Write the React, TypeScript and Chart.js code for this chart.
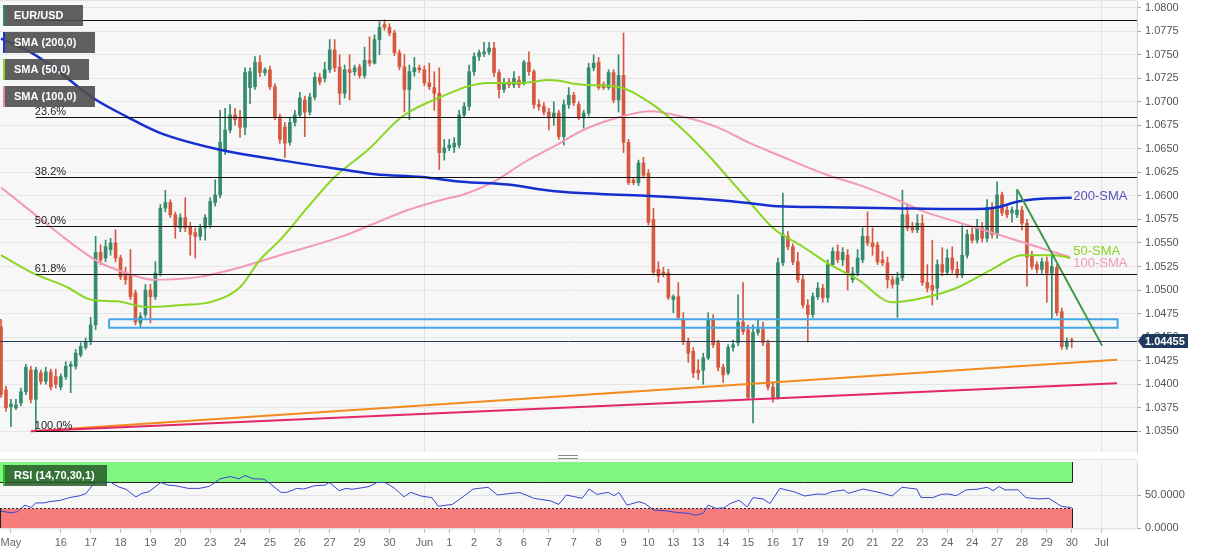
import React, { useEffect, useRef } from 'react';
import { Chart, registerables } from 'chart.js';

Chart.register(...registerables);

// ---------------- DATA ----------------
const opens = [
  1.0461,1.0394,1.0376,1.0375,1.0380,1.0392,1.0415,1.0384,1.0412,1.0403,
  1.0413,1.0408,1.0397,1.0408,1.0419,1.0419,1.0431,1.0439,1.0445,1.0463,
  1.0540,1.0534,1.0543,1.0550,1.0534,1.0519,1.0516,1.0497,1.0465,1.0474,
  1.0500,1.0493,1.0518,1.0587,1.0593,1.0580,1.0566,1.0577,1.0567,1.0561,
  1.0557,1.0566,1.0569,1.0593,1.0601,1.0647,1.0670,1.0686,1.0683,1.0673,
  1.0715,1.0716,1.0742,1.0731,1.0734,1.0716,1.0684,1.0673,1.0657,1.0678,
  1.0686,1.0702,1.0689,1.0705,1.0726,1.0725,1.0734,1.0755,1.0737,1.0709,
  1.0734,1.0732,1.0737,1.0728,1.0744,1.0741,1.0766,1.0782,1.0779,1.0773,
  1.0752,1.0737,1.0713,1.0732,1.0736,1.0734,1.0720,1.0715,1.0709,1.0646,
  1.0651,1.0652,1.0654,1.0686,1.0695,1.0732,1.0748,1.0751,1.0753,1.0757,
  1.0731,1.0713,1.0721,1.0718,1.0723,1.0719,1.0742,1.0732,1.0697,1.0695,
  1.0689,1.0683,1.0688,1.0663,1.0697,1.0707,1.0697,1.0683,1.0688,1.0736,
  1.0742,1.0718,1.0715,1.0731,1.0702,1.0728,1.0657,1.0617,1.0614,1.0635,
  1.0624,1.0575,1.0522,1.0519,1.0518,1.0490,1.0493,1.0469,1.0445,1.0435,
  1.0415,1.0415,1.0428,1.0469,1.0444,1.0418,1.0412,1.0439,1.0444,1.0466,
  1.0458,1.0386,1.0455,1.0458,1.0444,1.0397,1.0386,1.0529,1.0557,1.0546,
  1.0530,1.0511,1.0484,1.0474,1.0493,1.0502,1.0492,1.0527,1.0541,1.0532,
  1.0537,1.0511,1.0518,1.0532,1.0557,1.0550,1.0548,1.0532,1.0529,1.0511,
  1.0506,1.0513,1.0580,1.0567,1.0564,1.0571,1.0508,1.0505,1.0502,1.0527,
  1.0519,1.0534,1.0522,1.0516,1.0537,1.0559,1.0553,1.0566,1.0555,1.0588,
  1.0559,1.0601,1.0585,1.0582,1.0580,1.0585,1.0571,1.0537,1.0527,1.0522,
  1.0530,1.0518,1.0524,1.0477,1.0440,1.0447
];
const highs = [
  1.0469,1.0398,1.0384,1.0384,1.0396,1.0421,1.0419,1.0418,1.0415,1.0418,
  1.0416,1.0416,1.0411,1.0424,1.0424,1.0437,1.0444,1.0449,1.0471,1.0557,
  1.0548,1.0553,1.0555,1.0564,1.0537,1.0524,1.0543,1.0500,1.0476,1.0506,
  1.0506,1.0530,1.0591,1.0606,1.0596,1.0583,1.0581,1.0598,1.0572,1.0566,
  1.0570,1.0580,1.0598,1.0617,1.0691,1.0693,1.0697,1.0693,1.0691,1.0736,
  1.0736,1.0748,1.0749,1.0736,1.0738,1.0719,1.0687,1.0678,1.0683,1.0691,
  1.0710,1.0706,1.0709,1.0731,1.0730,1.0742,1.0766,1.0766,1.0750,1.0739,
  1.0750,1.0739,1.0740,1.0758,1.0769,1.0771,1.0785,1.0787,1.0783,1.0776,
  1.0755,1.0750,1.0739,1.0747,1.0739,1.0738,1.0741,1.0732,1.0736,1.0660,
  1.0660,1.0662,1.0691,1.0699,1.0739,1.0752,1.0755,1.0763,1.0763,1.0763,
  1.0734,1.0725,1.0725,1.0732,1.0727,1.0744,1.0753,1.0734,1.0702,1.0699,
  1.0693,1.0700,1.0691,1.0702,1.0715,1.0710,1.0700,1.0691,1.0741,1.0750,
  1.0747,1.0721,1.0734,1.0734,1.0750,1.0773,1.0660,1.0619,1.0638,1.0641,
  1.0628,1.0587,1.0530,1.0524,1.0522,1.0495,1.0508,1.0476,1.0449,1.0439,
  1.0426,1.0433,1.0476,1.0474,1.0447,1.0421,1.0442,1.0447,1.0495,1.0508,
  1.0463,1.0463,1.0469,1.0466,1.0447,1.0401,1.0534,1.0603,1.0562,1.0549,
  1.0540,1.0516,1.0490,1.0497,1.0508,1.0506,1.0532,1.0545,1.0548,1.0545,
  1.0543,1.0524,1.0543,1.0566,1.0583,1.0566,1.0551,1.0541,1.0535,1.0515,
  1.0519,1.0606,1.0591,1.0572,1.0580,1.0580,1.0527,1.0553,1.0532,1.0545,
  1.0543,1.0546,1.0530,1.0569,1.0564,1.0566,1.0575,1.0572,1.0596,1.0593,
  1.0615,1.0604,1.0589,1.0588,1.0606,1.0589,1.0575,1.0541,1.0530,1.0534,
  1.0535,1.0537,1.0527,1.0481,1.0449,1.0449
];
const lows = [
  1.0386,1.0371,1.0355,1.0373,1.0377,1.0389,1.0380,1.0351,1.0400,1.0400,
  1.0394,1.0396,1.0394,1.0405,1.0391,1.0416,1.0429,1.0437,1.0442,1.0458,
  1.0527,1.0530,1.0537,1.0530,1.0511,1.0506,1.0490,1.0463,1.0460,1.0471,
  1.0465,1.0490,1.0515,1.0583,1.0577,1.0555,1.0562,1.0562,1.0537,1.0534,
  1.0553,1.0553,1.0566,1.0589,1.0598,1.0644,1.0667,1.0675,1.0662,1.0665,
  1.0698,1.0713,1.0727,1.0728,1.0713,1.0681,1.0656,1.0641,1.0654,1.0674,
  1.0683,1.0663,1.0686,1.0702,1.0718,1.0721,1.0731,1.0732,1.0697,1.0704,
  1.0702,1.0728,1.0725,1.0725,1.0738,1.0740,1.0750,1.0776,1.0770,1.0749,
  1.0734,1.0689,1.0681,1.0727,1.0731,1.0717,1.0713,1.0691,1.0628,1.0638,
  1.0648,1.0646,1.0651,1.0683,1.0691,1.0728,1.0744,1.0748,1.0750,1.0727,
  1.0704,1.0710,1.0715,1.0715,1.0715,1.0718,1.0728,1.0693,1.0691,1.0686,
  1.0670,1.0675,1.0660,1.0654,1.0693,1.0696,1.0681,1.0672,1.0685,1.0733,
  1.0713,1.0713,1.0713,1.0699,1.0689,1.0646,1.0612,1.0612,1.0611,1.0619,
  1.0569,1.0516,1.0508,1.0514,1.0490,1.0476,1.0469,1.0442,1.0423,1.0407,
  1.0405,1.0400,1.0426,1.0439,1.0414,1.0402,1.0410,1.0435,1.0441,1.0453,
  1.0384,1.0359,1.0452,1.0441,1.0394,1.0381,1.0384,1.0526,1.0543,1.0527,
  1.0508,1.0481,1.0445,1.0471,1.0490,1.0487,1.0487,1.0526,1.0529,1.0526,
  1.0500,1.0508,1.0515,1.0529,1.0547,1.0537,1.0527,1.0526,1.0502,1.0502,
  1.0471,1.0510,1.0563,1.0561,1.0561,1.0505,1.0498,1.0484,1.0490,1.0515,
  1.0516,1.0518,1.0513,1.0513,1.0534,1.0550,1.0550,1.0551,1.0551,1.0555,
  1.0555,1.0579,1.0577,1.0572,1.0577,1.0564,1.0504,1.0522,1.0518,1.0518,
  1.0487,1.0469,1.0473,1.0437,1.0437,1.0439
];
const closes = [
  1.0389,1.0375,1.0379,1.0378,1.0392,1.0418,1.0384,1.0415,1.0403,1.0413,
  1.0397,1.0400,1.0408,1.0419,1.0421,1.0433,1.0440,1.0445,1.0463,1.0540,
  1.0532,1.0546,1.0550,1.0534,1.0514,1.0511,1.0493,1.0466,1.0472,1.0500,
  1.0493,1.0518,1.0587,1.0593,1.0580,1.0567,1.0577,1.0566,1.0559,1.0557,
  1.0566,1.0577,1.0594,1.0601,1.0657,1.0670,1.0686,1.0681,1.0673,1.0731,
  1.0732,1.0742,1.0731,1.0734,1.0716,1.0684,1.0660,1.0656,1.0678,1.0686,
  1.0704,1.0689,1.0705,1.0726,1.0721,1.0734,1.0755,1.0736,1.0709,1.0734,
  1.0731,1.0736,1.0728,1.0744,1.0741,1.0766,1.0779,1.0779,1.0773,1.0752,
  1.0737,1.0713,1.0732,1.0736,1.0734,1.0720,1.0716,1.0709,1.0646,1.0651,
  1.0654,1.0656,1.0686,1.0695,1.0732,1.0748,1.0752,1.0753,1.0757,1.0731,
  1.0713,1.0720,1.0718,1.0725,1.0718,1.0742,1.0732,1.0697,1.0695,1.0689,
  1.0683,1.0688,1.0663,1.0697,1.0707,1.0699,1.0683,1.0688,1.0736,1.0741,
  1.0715,1.0715,1.0731,1.0702,1.0728,1.0657,1.0614,1.0614,1.0635,1.0622,
  1.0572,1.0519,1.0515,1.0517,1.0492,1.0493,1.0471,1.0445,1.0433,1.0412,
  1.0412,1.0428,1.0469,1.0442,1.0418,1.0410,1.0439,1.0442,1.0466,1.0456,
  1.0386,1.0455,1.0458,1.0444,1.0397,1.0386,1.0529,1.0559,1.0546,1.0530,
  1.0511,1.0484,1.0474,1.0493,1.0502,1.0492,1.0527,1.0541,1.0532,1.0540,
  1.0518,1.0518,1.0534,1.0557,1.0550,1.0546,1.0530,1.0529,1.0511,1.0506,
  1.0513,1.0580,1.0566,1.0564,1.0571,1.0508,1.0502,1.0500,1.0527,1.0519,
  1.0534,1.0522,1.0516,1.0537,1.0559,1.0553,1.0566,1.0555,1.0588,1.0559,
  1.0601,1.0582,1.0580,1.0585,1.0585,1.0571,1.0535,1.0525,1.0522,1.0530,
  1.0518,1.0525,1.0476,1.0440,1.0445,1.04455
];

const sma200Idx = [0, 5.8, 10.4, 18.5, 25.3, 31.9, 44, 56, 68.5, 75.1, 84.5, 92.6, 101.8, 111.2, 120.3, 130.3, 140.4, 149, 155.8, 166.5, 179, 195.6, 200.2, 204.2, 209, 215];
const sma200Val = [1.0767, 1.0753, 1.0737, 1.0704, 1.0684, 1.0667, 1.0649, 1.0638, 1.0628, 1.0623, 1.0620, 1.0615, 1.0612, 1.0605, 1.0602, 1.0600, 1.0597, 1.0593, 1.0589, 1.0588, 1.0587, 1.0586, 1.0588, 1.0594, 1.0597, 1.0598];

const sma50Idx = [0, 6.4, 13.3, 17.9, 23.3, 29.3, 36.5, 42.6, 48, 52, 56, 61.6, 67, 73.7, 80.5, 87.8, 97.8, 104.6, 110.2, 116.9, 123.7, 130.3, 137, 142.4, 146.4, 150.4, 155, 161, 166.5, 172.1, 179, 185.5, 192.2, 199, 205, 211.6, 214.7];
const sma50Val = [1.0537, 1.0518, 1.0503, 1.0490, 1.0488, 1.0482, 1.0484, 1.0488, 1.0503, 1.0532, 1.0553, 1.0588, 1.0620, 1.0649, 1.0684, 1.0704, 1.0720, 1.0720, 1.0723, 1.0718, 1.0716, 1.0699, 1.0670, 1.0641, 1.0617, 1.0593, 1.0566, 1.0546, 1.0527, 1.0511, 1.0487, 1.0492, 1.0503, 1.0522, 1.0537, 1.0537, 1.0534];

const sma100Idx = [0, 6.4, 13.3, 19.9, 25.3, 30.5, 40, 46.6, 56, 68.5, 75.1, 81.7, 88.6, 92.6, 98.6, 105.2, 111.2, 116.9, 123.7, 130.3, 137, 143.8, 150.4, 155.8, 165.5, 172.1, 179, 185.5, 192.2, 199, 205.6, 211, 214.7];
const sma100Val = [1.0609, 1.0582, 1.0553, 1.0529, 1.0518, 1.0511, 1.0514, 1.0522, 1.0537, 1.0557, 1.0571, 1.0585, 1.0596, 1.0601, 1.0614, 1.0636, 1.0653, 1.0670, 1.0683, 1.0690, 1.0684, 1.0673, 1.0656, 1.0644, 1.0623, 1.0612, 1.0598, 1.0583, 1.0572, 1.0561, 1.0550, 1.0541, 1.0535];

const rsiIdx = [0,2,3.2,4.8,6,7,8.6,9.8,12,13.7,15.9,17.1,18.7,20.1,22.1,23.7,25.1,27.1,28.3,29.7,32.1,33.5,35.1,37.6,39.8,41.8,44,46,47.8,49,50.6,52.8,54.4,56.2,57.4,59.4,60.8,62.9,65.1,65.9,67.9,69.3,70.5,72.5,73.9,75.5,77.1,78.9,80.9,82.3,84.3,86.5,87.8,90.6,92.8,94.8,97.8,99.7,102.4,104.2,107,110.4,112,113.5,116.7,118.1,119.7,121.9,123.1,124.1,125.7,128.1,129.3,131.1,133.5,135.7,138.2,139.4,141,142,143.6,145.2,146.4,148.2,149.8,151,153,154.4,156.4,159.2,161.4,163.9,165.5,166.9,169.3,170.1,173.1,176.3,178.9,180.9,183.9,184.7,187.1,188.8,190.2,191.8,193.8,196,198,199.2,200.4,201.6,204.2,205.8,208.4,210.4,212.9,215];
const rsiVal = [25.5,23,24.5,34.7,31,38,38,40,42,46,49,52.5,68,70,69,62,58.7,47,52.5,55,69,65,64,60,60,63,74.5,78,74.5,79.6,74.5,74,65,54,54,60,59,64,65,69,56.6,60,58.7,61,62.8,69,69,61,47.4,54,48.5,46,33,35.7,47.4,59,61.7,50,52.5,53.6,45,41,35.7,50,45,59,51,54,49,54,34.7,39.8,37,27,26,23.5,22,19.4,22,34.7,29.6,30.6,37,42,32,46,44,37,60,55,48.5,51.5,51,55,57.7,52.5,59,54,48.5,61.7,59,46.4,46,51,51.5,49,57.7,58.7,61.7,56.6,62.8,57.7,58,46,44,45,33,30.6];

const tickLabels = ['May','16','17','18','19','20','23','24','25','26','27','29','30','Jun','1','2','3','6','7','7','8','9','10','13','13','14','15','16','17','19','20','21','22','23','24','24','27','28','29','30','Jul'];
const tickIdx = [2,12,18,24,30,36,42,48,54,60,66,72,78,85,90,95,100,105,110,115,120,125,130,135,140,145,150,155,160,165,170,175,180,185,190,195,200,205,210,215,221];
const priceTicks = [1.0350,1.0375,1.0400,1.0425,1.0450,1.0475,1.0500,1.0525,1.0550,1.0575,1.0600,1.0625,1.0650,1.0675,1.0700,1.0725,1.0750,1.0775,1.0800];
const rsiTicks = [0, 50];

const fibHigh = 1.0787;
const fibLow = 1.0350;
const fibRatios = [0, 0.236, 0.382, 0.5, 0.618, 1];
const fibLabels = ['', '23.6%', '38.2%', '50.0%', '61.8%', '100.0%'];
const fibStartIdx = 7;

const orangeIdx = [6, 224.1];
const orangeVal = [1.0350, 1.0426];
const crimsonIdx = [6, 224.1];
const crimsonVal = [1.0350, 1.0401];
const greenTrendIdx = [204, 221.1];
const greenTrendVal = [1.0607, 1.0441];
const boxIdx = [21.7, 224.2, 224.2, 21.7, 21.7];
const boxVal = [1.0469, 1.0469, 1.0460, 1.0460, 1.0469];

const lastPrice = 1.04455;
const rsiUpper = 70;
const rsiLower = 30;
const rsiBandEndIdx = 215;

// ---------------- STYLE ----------------
const FONT = '"Liberation Sans", Arial, Helvetica, sans-serif';
const X_MIN = -0.2;
const X_MAX = 228.1;
const Y_MIN = 1.0328;
const Y_MAX = 1.0807;
const GREEN = '#358b6d';
const RED = '#d5583f';

const isMonth = (i: number) => tickLabels[i] === 'Jun' || tickLabels[i] === 'Jul';

const zeroPad = (s: any) => {
  s.paddingTop = 0;
  s.paddingBottom = 0;
  s.paddingLeft = 0;
  s.paddingRight = 0;
};

function drawLegendBox(ctx: any, x: number, y: number, w: number, text: string, stripe: string, bg: string) {
  ctx.fillStyle = bg;
  ctx.fillRect(x, y, w, 21);
  ctx.fillStyle = stripe;
  ctx.fillRect(x, y, 2, 21);
  ctx.fillStyle = '#ffffff';
  ctx.font = `bold 11px ${FONT}`;
  ctx.textAlign = 'left';
  ctx.textBaseline = 'middle';
  ctx.fillText(text, x + 11, y + 11);
}

const priceDeco = {
  id: 'priceDeco',
  beforeDraw(chart: any) {
    const { ctx, chartArea: a, width, height } = chart;
    ctx.save();
    ctx.fillStyle = '#ffffff';
    ctx.fillRect(0, 0, width, height);
    ctx.fillStyle = '#f7f7f8';
    ctx.fillRect(a.left, a.top, a.right - a.left, a.bottom - a.top);
    ctx.strokeStyle = '#dde2ea';
    ctx.lineWidth = 1;
    ctx.beginPath();
    ctx.moveTo(0, 0.5);
    ctx.lineTo(a.right, 0.5);
    ctx.stroke();
    ctx.restore();
  },
  afterDatasetsDraw(chart: any) {
    const { ctx, chartArea: a, scales } = chart;
    const xs = scales.x;
    const ys = scales.y;
    ctx.save();
    ctx.beginPath();
    ctx.rect(a.left, a.top, a.right - a.left, a.bottom - a.top);
    ctx.clip();
    const x0 = xs.getPixelForValue(fibStartIdx);
    ctx.lineWidth = 1;
    fibRatios.forEach((r, k) => {
      const v = fibHigh - (fibHigh - fibLow) * r;
      const y = Math.round(ys.getPixelForValue(v)) + 0.5;
      ctx.strokeStyle = '#111111';
      ctx.beginPath();
      ctx.moveTo(x0, y);
      ctx.lineTo(a.right, y);
      ctx.stroke();
      if (fibLabels[k]) {
        ctx.fillStyle = '#222222';
        ctx.font = `11px ${FONT}`;
        ctx.textAlign = 'left';
        ctx.textBaseline = 'bottom';
        ctx.fillText(fibLabels[k], x0 - 1, y - 0.5);
      }
    });
    const yc = Math.round(ys.getPixelForValue(lastPrice)) + 0.5;
    ctx.strokeStyle = '#2a3d5c';
    ctx.beginPath();
    ctx.moveTo(a.left, yc);
    ctx.lineTo(a.right, yc);
    ctx.stroke();

    ctx.font = `13px ${FONT}`;
    ctx.textAlign = 'left';
    ctx.textBaseline = 'middle';
    const lx = xs.getPixelForValue(215.3);
    ctx.fillStyle = '#5a52b8';
    ctx.fillText('200-SMA', lx, ys.getPixelForValue(1.0599));
    ctx.fillStyle = '#8ad622';
    ctx.fillText('50-SMA', lx, ys.getPixelForValue(1.0541));
    ctx.fillStyle = '#f29ab8';
    ctx.fillText('100-SMA', lx, ys.getPixelForValue(1.0528));
    ctx.restore();
  },
  afterDraw(chart: any) {
    const { ctx, chartArea: a, scales } = chart;
    const ys = scales.y;
    ctx.save();
    drawLegendBox(ctx, 3, 5, 80, 'EUR/USD', '#2b8a73', 'rgba(78,78,78,0.9)');
    drawLegendBox(ctx, 3, 32, 92, 'SMA (200,0)', '#1a36d6', 'rgba(78,78,78,0.9)');
    drawLegendBox(ctx, 3, 59, 86, 'SMA (50,0)', '#8ad622', 'rgba(78,78,78,0.9)');
    drawLegendBox(ctx, 3, 86, 92, 'SMA (100,0)', '#d98aa5', 'rgba(78,78,78,0.9)');

    const y = Math.round(ys.getPixelForValue(lastPrice));
    const x = a.right;
    ctx.fillStyle = '#1f3a5c';
    ctx.beginPath();
    ctx.moveTo(x + 1, y);
    ctx.lineTo(x + 6, y - 7);
    ctx.lineTo(x + 51, y - 7);
    ctx.lineTo(x + 51, y + 7);
    ctx.lineTo(x + 6, y + 7);
    ctx.closePath();
    ctx.fill();
    ctx.fillStyle = '#ffffff';
    ctx.font = `bold 11px ${FONT}`;
    ctx.textAlign = 'left';
    ctx.textBaseline = 'middle';
    ctx.fillText('1.04455', x + 8, y + 0.5);
    ctx.restore();
  },
};

const rsiDeco = {
  id: 'rsiDeco',
  beforeDraw(chart: any) {
    const { ctx, chartArea: a, width, height } = chart;
    ctx.save();
    ctx.fillStyle = '#ffffff';
    ctx.fillRect(0, 0, width, height);
    ctx.fillStyle = '#f7f7f8';
    ctx.fillRect(a.left, 4, a.right - a.left, a.bottom + 3 - 4);
    ctx.strokeStyle = '#e2e2e2';
    ctx.lineWidth = 1;
    ctx.beginPath();
    ctx.moveTo(a.left, 4.5);
    ctx.lineTo(a.right, 4.5);
    ctx.stroke();
    ctx.strokeStyle = '#8a8a8a';
    ctx.beginPath();
    ctx.moveTo(558, 0.5);
    ctx.lineTo(578, 0.5);
    ctx.moveTo(558, 3.5);
    ctx.lineTo(578, 3.5);
    ctx.stroke();
    ctx.restore();
  },
  beforeDatasetsDraw(chart: any) {
    const { ctx, chartArea: a, scales } = chart;
    const xs = scales.x;
    const ys = scales.y;
    const xe = Math.round(xs.getPixelForValue(rsiBandEndIdx)) + 0.5;
    const y100 = ys.getPixelForValue(100);
    const y70 = Math.round(ys.getPixelForValue(rsiUpper)) + 0.5;
    const y30 = Math.round(ys.getPixelForValue(rsiLower)) + 0.5;
    const y0 = ys.getPixelForValue(0);
    ctx.save();
    ctx.fillStyle = '#80f580';
    ctx.fillRect(a.left, y100, xe - a.left, y70 - y100);
    ctx.fillStyle = '#f77d7d';
    ctx.fillRect(a.left, y30, xe - a.left, y0 - y30);
    ctx.strokeStyle = '#222222';
    ctx.lineWidth = 1;
    ctx.beginPath();
    ctx.moveTo(a.left, y70);
    ctx.lineTo(xe, y70);
    ctx.moveTo(xe, y100);
    ctx.lineTo(xe, y70);
    ctx.moveTo(xe, y30);
    ctx.lineTo(xe, y0);
    ctx.moveTo(a.left + 0.5, y30);
    ctx.lineTo(a.left + 0.5, y0);
    ctx.stroke();
    ctx.setLineDash([2, 2]);
    ctx.beginPath();
    ctx.moveTo(a.left, y30);
    ctx.lineTo(xe, y30);
    ctx.stroke();
    ctx.restore();
  },
  afterDraw(chart: any) {
    const { ctx } = chart;
    ctx.save();
    drawLegendBox(ctx, 3, 10, 104, 'RSI (14,70,30,1)', '#22c022', 'rgba(40,90,40,0.85)');
    ctx.restore();
  },
};

const pts = (xa: number[], ya: number[]) => xa.map((x, k) => ({ x, y: ya[k] }));

function lineDs(xa: number[], ya: number[], color: string, width: number, order: number, smooth: boolean) {
  return {
    type: 'line',
    data: pts(xa, ya),
    borderColor: color,
    borderWidth: width,
    pointRadius: 0,
    pointHoverRadius: 0,
    fill: false,
    tension: 0,
    cubicInterpolationMode: smooth ? 'monotone' : 'default',
    order,
  };
}

function priceConfig(): any {
  const idx = opens.map((_, i) => i);
  const colors = idx.map((i) => (closes[i] >= opens[i] ? GREEN : RED));
  return {
    type: 'bar',
    data: {
      datasets: [
        {
          type: 'bar',
          data: idx.map((i) => ({ x: i, y: [lows[i], highs[i]] })),
          backgroundColor: colors,
          barThickness: 1,
          grouped: false,
          borderWidth: 0,
          order: 10,
        },
        {
          type: 'bar',
          data: idx.map((i) => ({ x: i, y: [Math.min(opens[i], closes[i]), Math.max(opens[i], closes[i])] })),
          backgroundColor: colors,
          barThickness: 3,
          grouped: false,
          borderWidth: 0,
          minBarLength: 1,
          order: 9,
        },
        lineDs(sma100Idx, sma100Val, '#f29ab8', 2, 5, true),
        lineDs(sma50Idx, sma50Val, '#8ad622', 2, 4, true),
        lineDs(sma200Idx, sma200Val, '#1530d0', 2.5, 3, true),
        lineDs(crimsonIdx, crimsonVal, '#e3266a', 2, 2, false),
        lineDs(orangeIdx, orangeVal, '#f28a1e', 2, 2, false),
        lineDs(greenTrendIdx, greenTrendVal, '#3c9a46', 2, 1, false),
        lineDs(boxIdx, boxVal, '#46a6e6', 2, 1, false),
      ],
    },
    options: {
      responsive: false,
      animation: false,
      devicePixelRatio: 1,
      layout: { padding: { top: 1, left: 0, right: 0, bottom: 0 } },
      plugins: { legend: { display: false }, tooltip: { enabled: false } },
      events: [],
      scales: {
        x: {
          type: 'linear',
          min: X_MIN,
          max: X_MAX,
          offset: false,
          afterBuildTicks: (s: any) => { s.ticks = tickIdx.map((v) => ({ value: v })); },
          afterFit: (s: any) => { s.height = 3; zeroPad(s); },
          ticks: { display: false, autoSkip: false },
          grid: {
            offset: false,
            drawTicks: false,
            color: (c: any) => (c && typeof c.index === 'number' && isMonth(c.index) ? '#e2e2e2' : 'rgba(0,0,0,0)'),
          },
          border: { display: false },
        },
        y: {
          type: 'linear',
          position: 'right',
          min: Y_MIN,
          max: Y_MAX,
          beginAtZero: false,
          afterBuildTicks: (s: any) => { s.ticks = priceTicks.map((v) => ({ value: v })); },
          afterFit: (s: any) => { s.width = 70; zeroPad(s); },
          ticks: {
            autoSkip: false,
            color: '#555555',
            font: { size: 11, family: FONT },
            padding: 4,
            callback: (v: any) => Number(v).toFixed(4),
          },
          grid: { color: '#e6e6e6', tickLength: 4, tickColor: '#a8a8a8' },
          border: { color: '#d0d0d0' },
        },
      },
    },
    plugins: [priceDeco],
  };
}

function rsiConfig(): any {
  return {
    type: 'line',
    data: {
      datasets: [
        {
          data: pts(rsiIdx, rsiVal),
          borderColor: '#3548d0',
          borderWidth: 1,
          pointRadius: 0,
          tension: 0,
          fill: false,
        },
      ],
    },
    options: {
      responsive: false,
      animation: false,
      devicePixelRatio: 1,
      layout: { padding: { top: 7, left: 0, right: 0, bottom: 0 } },
      plugins: { legend: { display: false }, tooltip: { enabled: false } },
      events: [],
      scales: {
        x: {
          type: 'linear',
          min: X_MIN,
          max: X_MAX,
          offset: false,
          afterBuildTicks: (s: any) => { s.ticks = tickIdx.map((v) => ({ value: v })); },
          afterFit: (s: any) => { s.height = 27; zeroPad(s); },
          ticks: {
            autoSkip: false,
            maxRotation: 0,
            minRotation: 0,
            color: '#666666',
            font: { size: 11, family: FONT },
            padding: 3,
            callback: (_v: any, i: number) => tickLabels[i],
          },
          grid: {
            offset: false,
            tickLength: 5,
            tickColor: '#bdbdbd',
            color: (c: any) => (c && typeof c.index === 'number' && isMonth(c.index) ? '#e2e2e2' : 'rgba(0,0,0,0)'),
          },
          border: { display: false },
        },
        y: {
          type: 'linear',
          position: 'right',
          min: 0,
          max: 100,
          afterBuildTicks: (s: any) => { s.ticks = rsiTicks.map((v) => ({ value: v })); },
          afterFit: (s: any) => { s.width = 70; zeroPad(s); },
          ticks: {
            autoSkip: false,
            color: '#555555',
            font: { size: 11, family: FONT },
            padding: 4,
            callback: (v: any) => Number(v).toFixed(4),
          },
          grid: { color: '#e3e3e3', tickLength: 4, tickColor: '#a8a8a8' },
          border: { color: '#d0d0d0' },
        },
      },
    },
    plugins: [rsiDeco],
  };
}

export default function App() {
  const priceRef = useRef<HTMLCanvasElement | null>(null);
  const rsiRef = useRef<HTMLCanvasElement | null>(null);

  useEffect(() => {
    document.body.style.margin = '0';
    document.body.style.background = '#ffffff';
    Chart.defaults.font.family = FONT;
    const c1 = new Chart(priceRef.current as HTMLCanvasElement, priceConfig());
    const c2 = new Chart(rsiRef.current as HTMLCanvasElement, rsiConfig());
    return () => {
      c1.destroy();
      c2.destroy();
    };
  }, []);

  return (
    <div style={{ position: 'relative', width: 1207, height: 555, background: '#ffffff', overflow: 'hidden' }}>
      <canvas ref={priceRef} width={1207} height={455} style={{ position: 'absolute', left: 0, top: 0, display: 'block' }} />
      <canvas ref={rsiRef} width={1207} height={100} style={{ position: 'absolute', left: 0, top: 455, display: 'block' }} />
    </div>
  );
}
